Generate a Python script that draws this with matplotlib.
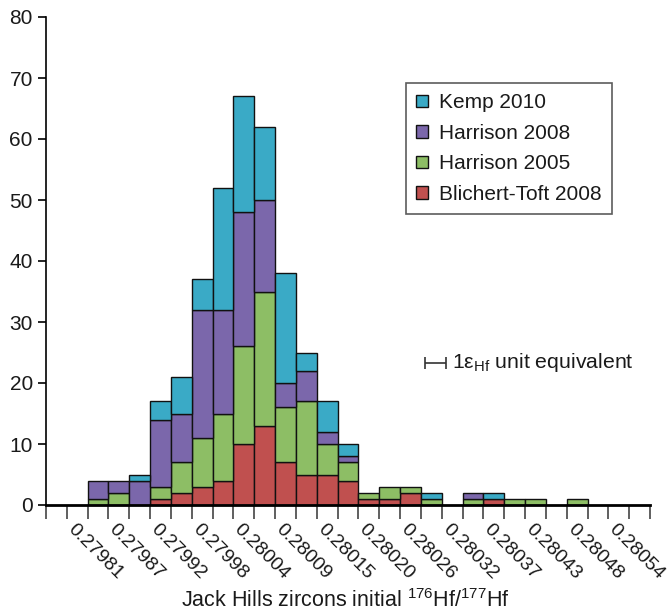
import matplotlib.pyplot as plt
import numpy as np

plt.rcParams["font.family"] = ["Liberation Sans", "DejaVu Sans"]
plt.rcParams["mathtext.fontset"] = "custom"
plt.rcParams["mathtext.rm"] = "Liberation Sans"
plt.rcParams["mathtext.default"] = "regular"

# bin index (left edge, one bin = 1 epsilon-Hf unit) and counts per dataset
bins = np.arange(29)
blichert_toft_2008 = [0, 0, 0, 0, 0, 1, 2, 3, 4, 10, 13, 7, 5, 5, 4, 1, 1, 2, 0, 0, 0, 1, 0, 0, 0, 0, 0, 0, 0]
harrison_2005 = [0, 0, 1, 2, 0, 2, 5, 8, 11, 16, 22, 9, 12, 5, 3, 1, 2, 1, 1, 0, 1, 0, 1, 1, 0, 1, 0, 0, 0]
harrison_2008 = [0, 0, 3, 2, 4, 11, 8, 21, 17, 22, 15, 4, 5, 2, 1, 0, 0, 0, 0, 0, 1, 0, 0, 0, 0, 0, 0, 0, 0]
kemp_2010 = [0, 0, 0, 0, 1, 3, 6, 5, 20, 19, 12, 18, 3, 5, 2, 0, 0, 0, 1, 0, 0, 1, 0, 0, 0, 0, 0, 0, 0]

tick_labels = ["0.27981", "0.27987", "0.27992", "0.27998", "0.28004", "0.28009", "0.28015",
               "0.28020", "0.28026", "0.28032", "0.28037", "0.28043", "0.28048", "0.28054"]

series = [("Blichert-Toft 2008", blichert_toft_2008, "#c0504f"),
          ("Harrison 2005", harrison_2005, "#8dbe65"),
          ("Harrison 2008", harrison_2008, "#7b67ab"),
          ("Kemp 2010", kemp_2010, "#3aaac6")]

txt = "#1a1a1a"
fig = plt.figure(figsize=(6.7, 6.13), dpi=100)
ax = fig.add_axes([46/670, 1-505/613, 604/670, 488/613])

bottom = np.zeros(len(bins))
handles = {}
for name, vals, col in series:
    vals = np.array(vals, dtype=float)
    mask = vals > 0
    b = ax.bar(bins[mask], vals[mask], width=1, bottom=bottom[mask], align="edge",
               color=col, edgecolor="#111111", linewidth=1.0, label=name)
    handles[name] = b
    bottom += vals

ax.set_xlim(0, 29)
ax.set_ylim(0, 80)
ax.set_yticks(range(0, 81, 10))
ax.set_xticks(np.arange(30))
ax.set_xticklabels([])
ax.spines["top"].set_visible(False)
ax.spines["right"].set_visible(False)
ax.spines["bottom"].set_linewidth(2)
ax.spines["left"].set_linewidth(1.2)
ax.tick_params(axis="x", direction="out", length=10, width=1.2, color="#444444")
ax.tick_params(axis="y", direction="out", length=6, width=1.2, labelsize=15, labelcolor=txt)

for i, lab in enumerate(tick_labels):
    ax.text(1 + 2*i + 0.45, -2.6, lab, rotation=-45, rotation_mode="anchor",
            ha="left", va="top", fontsize=14, color=txt)

fig.text(345/670, 1-607/613, "Jack Hills zircons initial $^{176}$Hf/$^{177}$Hf", fontsize=15.5,
         color=txt, ha="center", va="baseline")

# scale bar for one epsilon unit
ax.errorbar(18.7, 23.3, xerr=0.5, fmt="none", ecolor="#333333", capsize=4, elinewidth=1.2,
            capthick=1.2)
ax.text(19.5, 23.3, "1ε$_{Hf}$ unit equivalent", fontsize=15.3, color=txt,
        va="center", ha="left")

order = ["Kemp 2010", "Harrison 2008", "Harrison 2005", "Blichert-Toft 2008"]
leg = ax.legend([handles[n] for n in order], order, loc="upper left",
                bbox_to_anchor=(406/670, 1-83/613), bbox_transform=fig.transFigure,
                fontsize=15, frameon=True, fancybox=False, edgecolor="#333333",
                handlelength=0.55, handleheight=0.55, handletextpad=0.55,
                labelspacing=0.55, borderpad=0.5, borderaxespad=0, labelcolor=txt)
leg.get_frame().set_linewidth(1.2)

plt.savefig("out.png")
